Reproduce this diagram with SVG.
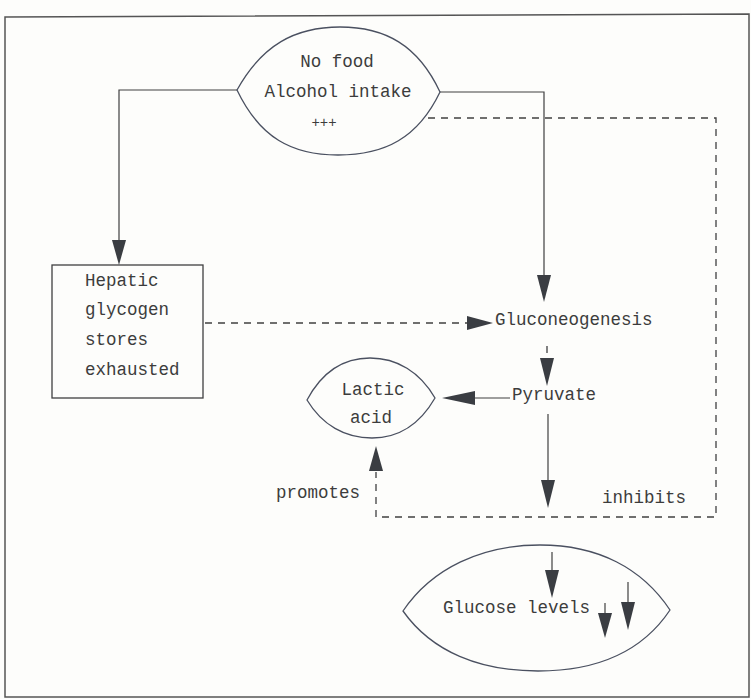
<svg xmlns="http://www.w3.org/2000/svg" width="751" height="699" viewBox="0 0 751 699">
<defs>
<style>
.t{font-family:"Liberation Mono","Courier New",monospace;font-size:17.5px;fill:#3c3c3c}
.lens{fill:none;stroke:#4a5060;stroke-width:1.3}
.ln{fill:none;stroke:#404040;stroke-width:1.2}
.dash{fill:none;stroke:#404040;stroke-width:1.3;stroke-dasharray:7 6}
.ah{fill:#3a3d42}
</style>
</defs>
<rect x="0" y="0" width="751" height="699" fill="#fdfdfb"/>
<path d="M5,17 L749,14 L749,697 L5,697 Z" fill="none" stroke="#555" stroke-width="1.5"/>

<g id="connectors">
<path class="ln" d="M237,90 H119 V242"/>
<polygon class="ah" points="112,240 126,240 119,265"/>
<path class="ln" d="M440,92 H544 V277"/>
<polygon class="ah" points="537,275 551,275 544,302"/>
<path class="dash" d="M205,323 H467"/>
<polygon class="ah" points="467,316 467,330 493,323"/>
<path class="dash" d="M547,346 V358"/>
<polygon class="ah" points="540,358 554,358 547,386"/>
<path class="ln" d="M510,398 H474"/>
<polygon class="ah" points="475,391 475,405 442,398"/>
<path class="ln" d="M548,414 V482"/>
<polygon class="ah" points="541,480 555,480 548,508"/>
<path class="dash" d="M428,118 H716 V517 H376 V472"/>
<polygon class="ah" points="369,471 383,471 376,446"/>
<path class="ln" d="M552,552 V572"/>
<polygon class="ah" points="545,570 559,570 552,598"/>
<path class="ln" d="M605,603 V615"/>
<polygon class="ah" points="598,613 612,613 605,638"/>
<path class="ln" d="M628,582 V604"/>
<polygon class="ah" points="621,602 635,602 628,630"/>
</g>

<g id="no-food">
<path class="lens" d="M237,90 C262,45 295,27 340,27 C385,27 418,45 440,92 C418,138 385,155 338,155 C292,155 260,138 237,90 Z"/>
<text class="t" x="337" y="67" text-anchor="middle">No food</text>
<text class="t" x="338" y="97" text-anchor="middle">Alcohol intake</text>
<text class="t" x="324" y="127" text-anchor="middle" style="font-size:14px">+++</text>
</g>

<g id="hepatic">
<rect x="52" y="265" width="151" height="133" fill="none" stroke="#404040" stroke-width="1.3"/>
<text class="t" x="85" y="286">Hepatic</text>
<text class="t" x="85" y="315">glycogen</text>
<text class="t" x="85" y="345">stores</text>
<text class="t" x="85" y="375">exhausted</text>
</g>

<g id="gluconeogenesis">
<text class="t" x="495" y="325">Gluconeogenesis</text>
</g>

<g id="pyruvate">
<text class="t" x="512" y="400">Pyruvate</text>
</g>

<g id="lactic-acid">
<path class="lens" d="M307,400 C322,372 343,358 370,358 C397,358 420,372 435,398 C420,424 400,438 372,438 C345,438 322,425 307,400 Z"/>
<text class="t" x="373" y="395" text-anchor="middle">Lactic</text>
<text class="t" x="371" y="423" text-anchor="middle">acid</text>
</g>

<g id="promotes">
<text class="t" x="276" y="498">promotes</text>
</g>

<g id="inhibits">
<text class="t" x="602" y="503">inhibits</text>
</g>

<g id="glucose-levels">
<path class="lens" d="M403,611 C432,568 482,545 540,545 C598,545 642,568 670,610 C642,652 598,671 538,671 C480,671 432,652 403,611 Z"/>
<text class="t" x="443" y="613">Glucose levels</text>
</g>
</svg>
